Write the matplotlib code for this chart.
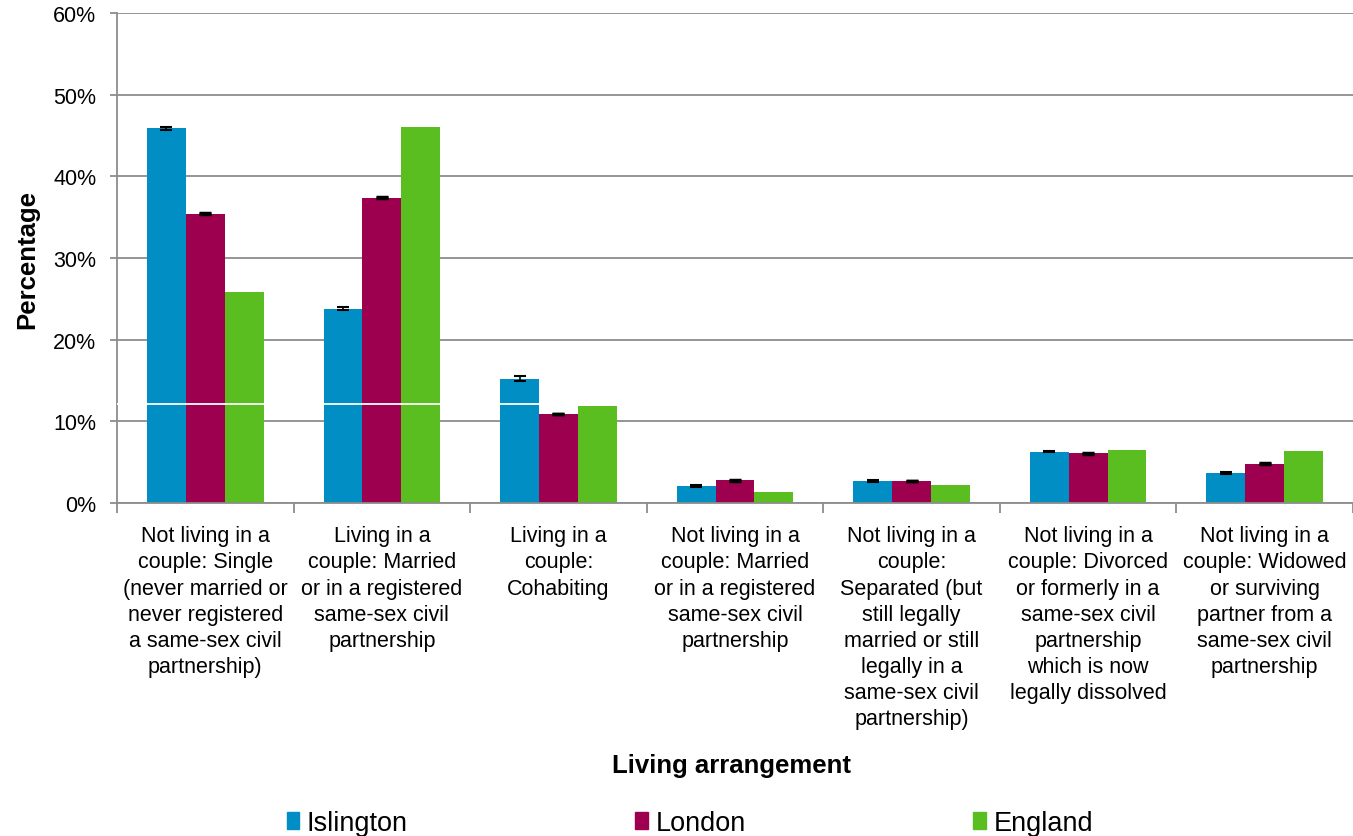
import numpy as np
import matplotlib
matplotlib.use('Agg')
import matplotlib.pyplot as plt
from matplotlib.ticker import FuncFormatter
from matplotlib.patches import Patch

plt.rcParams['font.family'] = ['Liberation Sans', 'DejaVu Sans']

categories = [
    'Not living in a\ncouple: Single\n(never married or\nnever registered\na same-sex civil\npartnership)',
    'Living in a\ncouple: Married\nor in a registered\nsame-sex civil\npartnership',
    'Living in a\ncouple:\nCohabiting',
    'Not living in a\ncouple: Married\nor in a registered\nsame-sex civil\npartnership',
    'Not living in a\ncouple:\nSeparated (but\nstill legally\nmarried or still\nlegally in a\nsame-sex civil\npartnership)',
    'Not living in a\ncouple: Divorced\nor formerly in a\nsame-sex civil\npartnership\nwhich is now\nlegally dissolved',
    'Not living in a\ncouple: Widowed\nor surviving\npartner from a\nsame-sex civil\npartnership',
]
series = ['Islington', 'London', 'England']
islington = [45.9, 23.8, 15.2, 2.1, 2.7, 6.3, 3.7]
london = [35.4, 37.4, 10.9, 2.8, 2.7, 6.1, 4.8]
england = [25.8, 46.0, 11.9, 1.4, 2.2, 6.5, 6.4]
islington_err = [0.2, 0.2, 0.3, 0.1, 0.1, 0.1, 0.1]
london_err = [0.05, 0.05, 0.05, 0.05, 0.05, 0.05, 0.05]
colors = ['#008EC5', '#9E0050', '#5ABE20']

fig = plt.figure(figsize=(13.53, 8.37), dpi=100)
ax = fig.add_axes([0.0865, 0.3978, 0.9135, 0.5855])

x = np.arange(len(categories))
w = 0.22
ax.bar(x - w, islington, w, color=colors[0], zorder=2,
       yerr=islington_err, error_kw=dict(ecolor='black', capsize=4, elinewidth=1.2, capthick=1.5))
ax.bar(x, london, w, color=colors[1], zorder=2,
       yerr=london_err, error_kw=dict(ecolor='black', capsize=4, elinewidth=1.2, capthick=2.5))
ax.bar(x + w, england, w, color=colors[2], zorder=2)
# thin white line crossing the bars near 12%
ax.axhline(12.1, color='white', lw=1.3, zorder=3)

ax.set_xlim(-0.5, len(categories) - 0.5)
ax.set_ylim(0, 60)
ax.set_yticks(np.arange(0, 61, 10))
ax.yaxis.set_major_formatter(FuncFormatter(lambda v, p: '%d%%' % v))
ax.grid(axis='y', color='#8c8c8c', lw=1.3, zorder=0)
ax.set_axisbelow(True)

ax.set_xticks(x)
ax.set_xticklabels(categories, fontsize=15.5, linespacing=1.32)
ax.set_xticks(np.arange(-0.5, len(categories), 1), minor=True)
ax.tick_params(axis='x', which='major', length=0, pad=16)
ax.tick_params(axis='x', which='minor', length=7, color='#8c8c8c', width=1.3)
ax.tick_params(axis='y', labelsize=15.5, length=5, color='#8c8c8c', width=1.3, pad=10)

for s in ['top', 'right']:
    ax.spines[s].set_visible(False)
for s in ['left', 'bottom']:
    ax.spines[s].set_color('#8c8c8c')
    ax.spines[s].set_linewidth(1.3)

ax.set_ylabel('Percentage', fontsize=18.5, fontweight='bold', labelpad=10)
fig.text(0.541, 0.085, 'Living arrangement', fontsize=18.5, fontweight='bold', ha='center', va='center')

handles = [Patch(color=c) for c in colors]
fig.legend(handles, series, loc='center', bbox_to_anchor=(0.51, 0.015), ncol=3, frameon=False,
           fontsize=19.5, handlelength=0.45, handleheight=0.6, handletextpad=0.3, columnspacing=8.4)

fig.savefig('out.png', dpi=100)
